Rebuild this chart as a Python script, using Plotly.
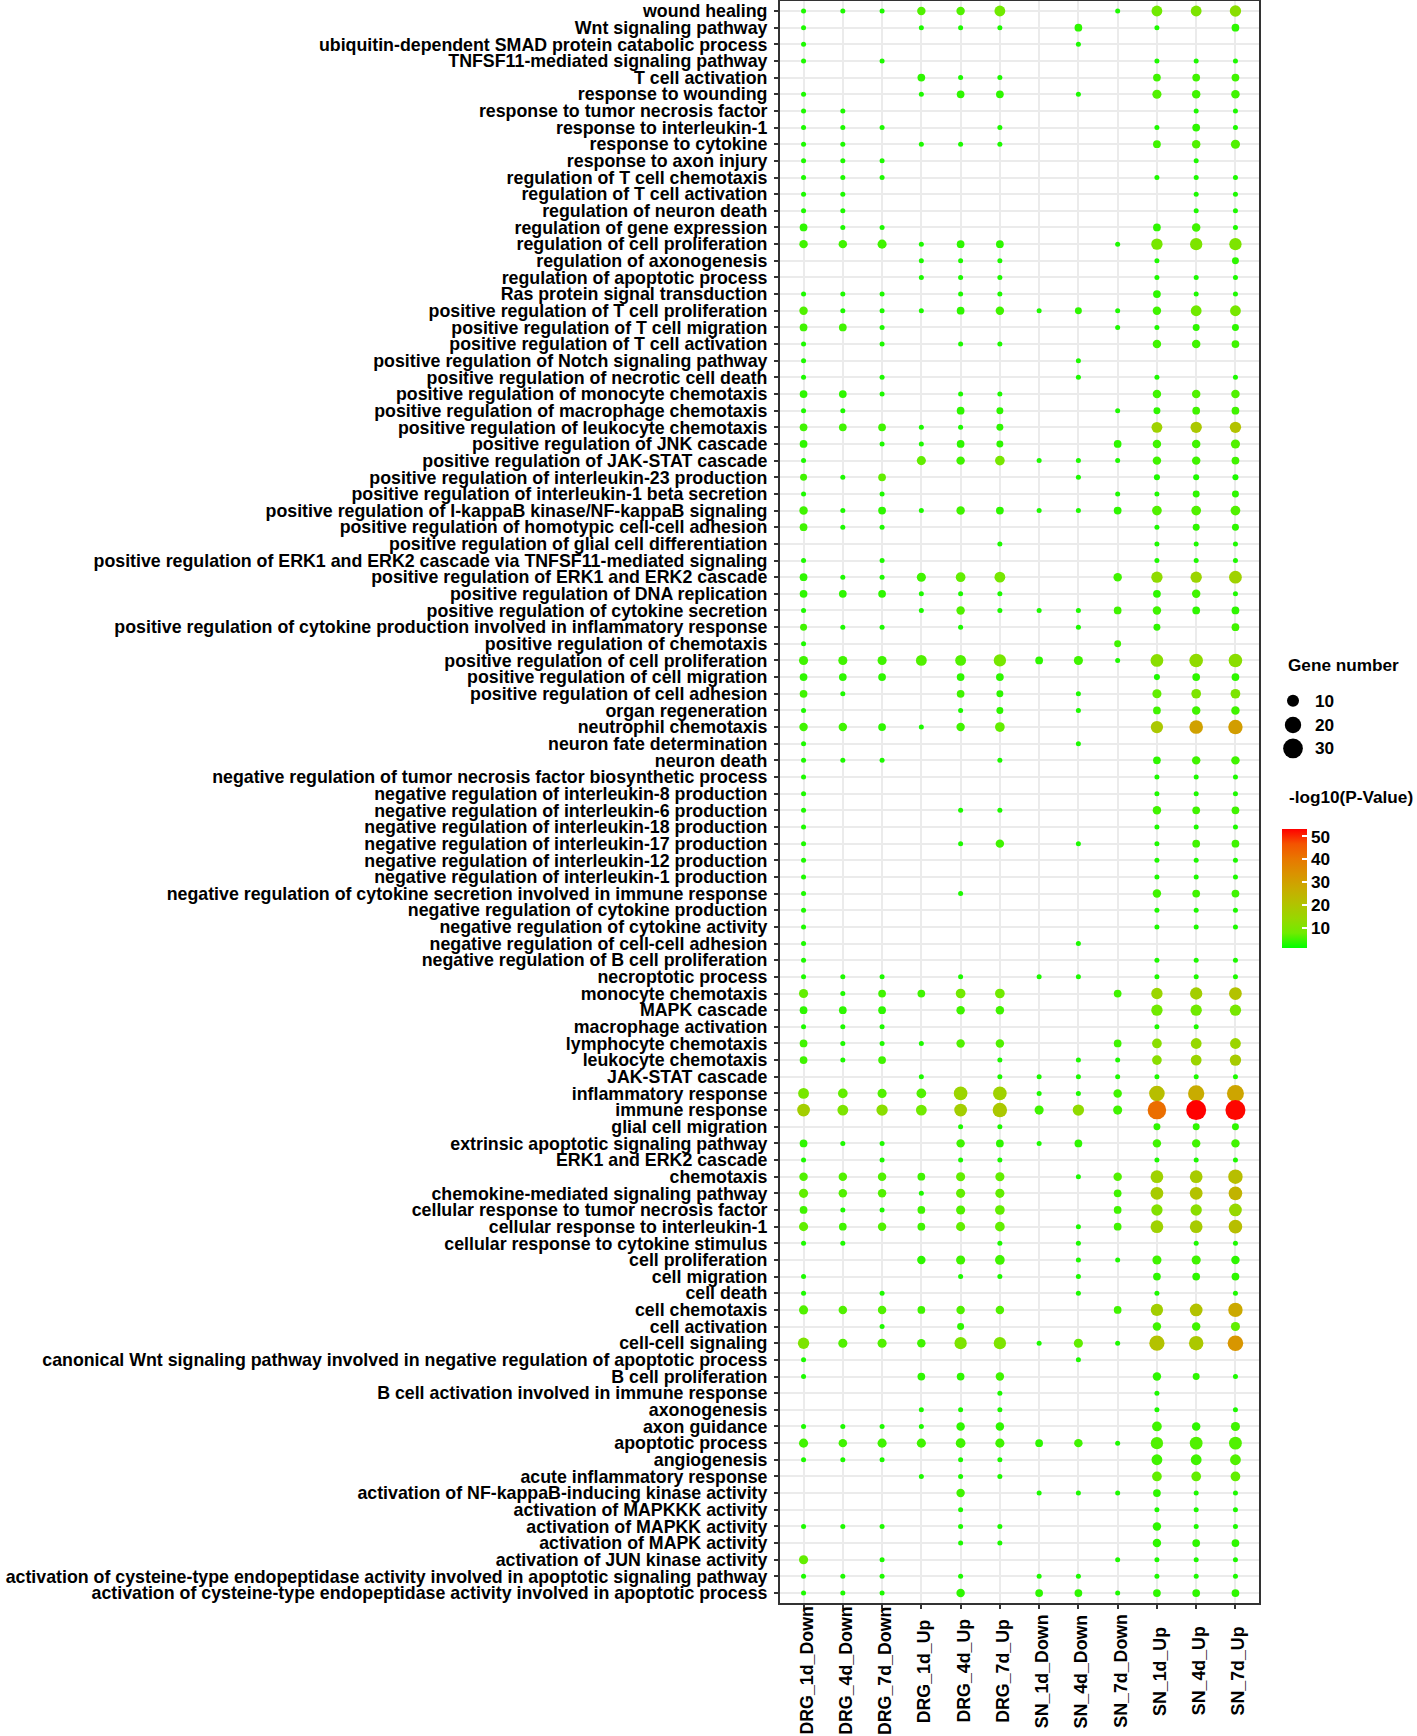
import numpy as np
import plotly.graph_objects as go

# samples (x axis)
groups = ["DRG_1d_Down", "DRG_4d_Down", "DRG_7d_Down", "DRG_1d_Up", "DRG_4d_Up", "DRG_7d_Up",
          "SN_1d_Down", "SN_4d_Down", "SN_7d_Down", "SN_1d_Up", "SN_4d_Up", "SN_7d_Up"]

# GO terms, top to bottom
terms = [
    "wound healing",
    "Wnt signaling pathway",
    "ubiquitin-dependent SMAD protein catabolic process",
    "TNFSF11-mediated signaling pathway",
    "T cell activation",
    "response to wounding",
    "response to tumor necrosis factor",
    "response to interleukin-1",
    "response to cytokine",
    "response to axon injury",
    "regulation of T cell chemotaxis",
    "regulation of T cell activation",
    "regulation of neuron death",
    "regulation of gene expression",
    "regulation of cell proliferation",
    "regulation of axonogenesis",
    "regulation of apoptotic process",
    "Ras protein signal transduction",
    "positive regulation of T cell proliferation",
    "positive regulation of T cell migration",
    "positive regulation of T cell activation",
    "positive regulation of Notch signaling pathway",
    "positive regulation of necrotic cell death",
    "positive regulation of monocyte chemotaxis",
    "positive regulation of macrophage chemotaxis",
    "positive regulation of leukocyte chemotaxis",
    "positive regulation of JNK cascade",
    "positive regulation of JAK-STAT cascade",
    "positive regulation of interleukin-23 production",
    "positive regulation of interleukin-1 beta secretion",
    "positive regulation of I-kappaB kinase/NF-kappaB signaling",
    "positive regulation of homotypic cell-cell adhesion",
    "positive regulation of glial cell differentiation",
    "positive regulation of ERK1 and ERK2 cascade via TNFSF11-mediated signaling",
    "positive regulation of ERK1 and ERK2 cascade",
    "positive regulation of DNA replication",
    "positive regulation of cytokine secretion",
    "positive regulation of cytokine production involved in inflammatory response",
    "positive regulation of chemotaxis",
    "positive regulation of cell proliferation",
    "positive regulation of cell migration",
    "positive regulation of cell adhesion",
    "organ regeneration",
    "neutrophil chemotaxis",
    "neuron fate determination",
    "neuron death",
    "negative regulation of tumor necrosis factor biosynthetic process",
    "negative regulation of interleukin-8 production",
    "negative regulation of interleukin-6 production",
    "negative regulation of interleukin-18 production",
    "negative regulation of interleukin-17 production",
    "negative regulation of interleukin-12 production",
    "negative regulation of interleukin-1 production",
    "negative regulation of cytokine secretion involved in immune response",
    "negative regulation of cytokine production",
    "negative regulation of cytokine activity",
    "negative regulation of cell-cell adhesion",
    "negative regulation of B cell proliferation",
    "necroptotic process",
    "monocyte chemotaxis",
    "MAPK cascade",
    "macrophage activation",
    "lymphocyte chemotaxis",
    "leukocyte chemotaxis",
    "JAK-STAT cascade",
    "inflammatory response",
    "immune response",
    "glial cell migration",
    "extrinsic apoptotic signaling pathway",
    "ERK1 and ERK2 cascade",
    "chemotaxis",
    "chemokine-mediated signaling pathway",
    "cellular response to tumor necrosis factor",
    "cellular response to interleukin-1",
    "cellular response to cytokine stimulus",
    "cell proliferation",
    "cell migration",
    "cell death",
    "cell chemotaxis",
    "cell activation",
    "cell-cell signaling",
    "canonical Wnt signaling pathway involved in negative regulation of apoptotic process",
    "B cell proliferation",
    "B cell activation involved in immune response",
    "axonogenesis",
    "axon guidance",
    "apoptotic process",
    "angiogenesis",
    "acute inflammatory response",
    "activation of NF-kappaB-inducing kinase activity",
    "activation of MAPKKK activity",
    "activation of MAPKK activity",
    "activation of MAPK activity",
    "activation of JUN kinase activity",
    "activation of cysteine-type endopeptidase activity involved in apoptotic signaling pathway",
    "activation of cysteine-type endopeptidase activity involved in apoptotic process",
]

# gene number per term / sample (0 = not enriched)
gene_count = [
    [2, 2, 2, 6, 6, 10, 0, 0, 2, 10, 10, 11],
    [2, 0, 0, 2, 2, 2, 0, 5, 0, 2, 0, 5],
    [2, 0, 0, 0, 0, 0, 0, 2, 0, 0, 0, 0],
    [2, 0, 2, 0, 0, 0, 0, 0, 0, 2, 2, 2],
    [0, 0, 0, 5, 2, 2, 0, 0, 0, 5, 5, 5],
    [2, 0, 0, 2, 5, 5, 0, 2, 0, 7, 6, 6],
    [2, 2, 0, 0, 0, 0, 0, 0, 0, 0, 2, 2],
    [2, 2, 2, 0, 0, 2, 0, 0, 0, 2, 5, 2],
    [2, 2, 0, 2, 2, 2, 0, 0, 0, 5, 6, 7],
    [2, 2, 2, 0, 0, 0, 0, 0, 0, 0, 2, 0],
    [2, 2, 2, 0, 0, 0, 0, 0, 0, 2, 2, 2],
    [2, 2, 0, 0, 0, 0, 0, 0, 0, 0, 2, 2],
    [2, 2, 0, 0, 0, 0, 0, 0, 0, 0, 2, 2],
    [5, 2, 2, 0, 0, 0, 0, 0, 0, 5, 6, 2],
    [6, 6, 7, 2, 5, 5, 0, 0, 2, 11, 13, 13],
    [0, 0, 0, 2, 2, 2, 0, 0, 0, 2, 0, 4],
    [0, 0, 0, 2, 2, 2, 0, 0, 0, 2, 2, 2],
    [2, 2, 2, 0, 2, 2, 0, 0, 0, 5, 2, 2],
    [6, 2, 2, 2, 5, 6, 2, 4, 2, 6, 10, 10],
    [5, 5, 2, 0, 0, 0, 0, 0, 2, 2, 4, 4],
    [2, 0, 2, 0, 2, 2, 0, 0, 0, 6, 6, 5],
    [2, 0, 0, 0, 0, 0, 0, 2, 0, 0, 0, 0],
    [2, 0, 2, 0, 0, 0, 0, 2, 0, 2, 0, 2],
    [5, 5, 2, 0, 2, 2, 0, 0, 0, 6, 6, 6],
    [2, 2, 0, 0, 5, 4, 0, 0, 2, 4, 5, 5],
    [5, 5, 5, 2, 2, 4, 0, 0, 0, 10, 11, 11],
    [5, 0, 2, 2, 5, 4, 0, 0, 5, 6, 6, 7],
    [2, 0, 0, 7, 6, 8, 2, 2, 2, 6, 6, 5],
    [4, 2, 5, 0, 0, 0, 0, 2, 0, 3, 3, 3],
    [2, 0, 2, 0, 0, 0, 0, 0, 2, 2, 4, 4],
    [6, 2, 5, 2, 6, 5, 2, 2, 5, 8, 8, 8],
    [5, 2, 2, 0, 0, 0, 0, 0, 0, 2, 4, 4],
    [0, 0, 0, 0, 0, 2, 0, 0, 0, 2, 2, 2],
    [2, 0, 2, 0, 0, 0, 0, 0, 0, 2, 2, 2],
    [5, 2, 2, 7, 8, 10, 0, 0, 6, 11, 11, 14],
    [5, 5, 5, 2, 2, 2, 0, 0, 0, 5, 6, 2],
    [2, 0, 0, 2, 6, 2, 2, 2, 5, 6, 5, 5],
    [4, 2, 2, 0, 2, 0, 0, 2, 0, 4, 0, 5],
    [2, 0, 0, 0, 0, 0, 0, 0, 4, 0, 0, 0],
    [7, 7, 7, 10, 10, 13, 5, 7, 2, 14, 16, 16],
    [5, 5, 5, 0, 5, 5, 0, 0, 0, 3, 5, 5],
    [5, 2, 0, 0, 5, 4, 0, 2, 0, 7, 8, 8],
    [2, 0, 0, 0, 2, 4, 0, 2, 0, 5, 6, 6],
    [6, 6, 5, 2, 6, 8, 0, 0, 0, 13, 16, 18],
    [2, 0, 0, 0, 0, 0, 0, 2, 0, 0, 0, 0],
    [2, 2, 2, 0, 0, 2, 0, 0, 0, 5, 6, 6],
    [2, 0, 0, 0, 0, 0, 0, 0, 0, 2, 2, 2],
    [2, 0, 0, 0, 0, 0, 0, 0, 0, 2, 2, 2],
    [2, 0, 0, 0, 2, 2, 0, 0, 0, 6, 5, 5],
    [2, 0, 0, 0, 0, 0, 0, 0, 0, 2, 2, 2],
    [2, 0, 0, 0, 2, 6, 0, 2, 0, 2, 5, 5],
    [2, 0, 0, 0, 0, 0, 0, 0, 0, 2, 2, 2],
    [2, 0, 0, 0, 0, 0, 0, 0, 0, 2, 2, 2],
    [2, 0, 0, 0, 2, 0, 0, 0, 0, 6, 5, 5],
    [2, 0, 0, 0, 0, 0, 0, 0, 0, 2, 2, 2],
    [2, 0, 0, 0, 0, 0, 0, 0, 0, 2, 2, 2],
    [2, 0, 0, 0, 0, 0, 0, 2, 0, 0, 0, 0],
    [2, 0, 0, 0, 0, 0, 0, 0, 0, 2, 2, 2],
    [2, 2, 2, 0, 2, 0, 2, 2, 0, 2, 2, 2],
    [7, 2, 5, 5, 8, 8, 0, 0, 5, 11, 13, 14],
    [5, 5, 5, 0, 6, 6, 0, 0, 0, 11, 11, 11],
    [2, 2, 2, 0, 0, 0, 0, 0, 0, 2, 2, 0],
    [5, 2, 2, 2, 6, 6, 0, 0, 5, 8, 10, 10],
    [5, 2, 5, 0, 0, 2, 0, 2, 2, 8, 10, 11],
    [0, 0, 0, 2, 0, 2, 2, 2, 2, 2, 2, 2],
    [10, 8, 7, 8, 16, 16, 2, 2, 6, 21, 23, 25],
    [14, 10, 11, 10, 14, 18, 7, 11, 7, 30, 35, 35],
    [0, 0, 0, 0, 2, 2, 0, 0, 0, 4, 4, 4],
    [5, 2, 2, 0, 6, 5, 2, 5, 0, 6, 6, 6],
    [2, 0, 2, 0, 2, 2, 0, 0, 0, 2, 2, 2],
    [6, 6, 6, 5, 7, 7, 0, 2, 6, 14, 14, 18],
    [7, 6, 6, 2, 7, 7, 0, 0, 5, 14, 14, 16],
    [5, 2, 2, 5, 7, 8, 0, 0, 5, 11, 11, 14],
    [7, 5, 6, 5, 7, 8, 0, 2, 5, 14, 14, 16],
    [2, 2, 0, 0, 0, 2, 0, 2, 0, 0, 2, 2],
    [0, 0, 0, 6, 7, 8, 0, 2, 2, 7, 7, 6],
    [2, 0, 0, 0, 2, 2, 0, 2, 0, 5, 5, 5],
    [2, 0, 2, 0, 0, 0, 0, 2, 0, 2, 0, 2],
    [7, 6, 6, 5, 6, 6, 0, 0, 5, 13, 14, 18],
    [0, 0, 2, 0, 4, 0, 0, 0, 0, 6, 6, 7],
    [11, 7, 7, 6, 13, 13, 2, 7, 2, 20, 18, 21],
    [2, 0, 0, 0, 0, 0, 0, 2, 0, 0, 0, 0],
    [2, 0, 0, 5, 5, 6, 0, 0, 0, 6, 4, 2],
    [0, 0, 0, 0, 0, 2, 0, 0, 0, 2, 0, 0],
    [0, 0, 0, 2, 2, 2, 0, 0, 0, 2, 0, 2],
    [2, 2, 2, 2, 6, 6, 0, 0, 0, 8, 6, 7],
    [7, 6, 7, 7, 8, 7, 5, 6, 2, 13, 14, 14],
    [2, 2, 2, 0, 2, 2, 0, 0, 0, 10, 10, 10],
    [0, 0, 0, 2, 2, 2, 0, 0, 0, 8, 8, 8],
    [0, 0, 0, 0, 6, 0, 2, 2, 2, 5, 2, 2],
    [0, 0, 0, 0, 2, 0, 0, 0, 0, 2, 2, 2],
    [2, 2, 2, 0, 2, 2, 0, 0, 0, 6, 2, 2],
    [0, 0, 0, 0, 2, 2, 0, 0, 0, 6, 5, 5],
    [7, 0, 2, 0, 0, 0, 0, 0, 2, 2, 2, 2],
    [2, 2, 2, 0, 2, 0, 2, 2, 0, 2, 2, 2],
    [2, 2, 2, 0, 6, 0, 5, 5, 2, 5, 5, 5],
]

# -log10(P-Value) per term / sample
neg_log10_p = [
    [3, 3, 3, 6, 6, 8, 0, 0, 3, 8, 10, 12],
    [3, 0, 0, 3, 3, 3, 0, 4, 0, 3, 0, 4],
    [3, 0, 0, 0, 0, 0, 0, 3, 0, 0, 0, 0],
    [3, 0, 3, 0, 0, 0, 0, 0, 0, 3, 3, 3],
    [0, 0, 0, 4, 3, 3, 0, 0, 0, 5, 5, 5],
    [3, 0, 0, 3, 4, 4, 0, 3, 0, 6, 5, 5],
    [3, 3, 0, 0, 0, 0, 0, 0, 0, 0, 3, 3],
    [3, 3, 3, 0, 0, 3, 0, 0, 0, 3, 4, 3],
    [3, 3, 0, 3, 3, 3, 0, 0, 0, 5, 6, 6],
    [3, 3, 3, 0, 0, 0, 0, 0, 0, 0, 3, 0],
    [3, 3, 3, 0, 0, 0, 0, 0, 0, 3, 3, 3],
    [3, 3, 0, 0, 0, 0, 0, 0, 0, 0, 3, 3],
    [3, 3, 0, 0, 0, 0, 0, 0, 0, 0, 3, 3],
    [4, 3, 3, 0, 0, 0, 0, 0, 0, 4, 5, 3],
    [5, 5, 5, 3, 4, 4, 0, 0, 3, 9, 10, 10],
    [0, 0, 0, 3, 3, 3, 0, 0, 0, 3, 0, 4],
    [0, 0, 0, 3, 3, 3, 0, 0, 0, 3, 3, 3],
    [3, 3, 3, 0, 3, 3, 0, 0, 0, 4, 3, 3],
    [6, 3, 3, 3, 4, 5, 3, 4, 3, 5, 8, 9],
    [5, 5, 3, 0, 0, 0, 0, 0, 3, 3, 4, 4],
    [3, 0, 3, 0, 3, 3, 0, 0, 0, 5, 5, 5],
    [3, 0, 0, 0, 0, 0, 0, 3, 0, 0, 0, 0],
    [3, 0, 3, 0, 0, 0, 0, 3, 0, 3, 0, 3],
    [4, 4, 3, 0, 3, 3, 0, 0, 0, 5, 6, 6],
    [3, 3, 0, 0, 4, 4, 0, 0, 3, 4, 5, 5],
    [5, 5, 5, 3, 3, 4, 0, 0, 0, 16, 19, 21],
    [4, 0, 3, 3, 4, 4, 0, 0, 4, 5, 5, 6],
    [3, 0, 0, 7, 5, 9, 3, 3, 3, 5, 5, 5],
    [5, 3, 7, 0, 0, 0, 0, 3, 0, 3, 3, 3],
    [3, 0, 3, 0, 0, 0, 0, 0, 3, 3, 4, 4],
    [5, 3, 4, 3, 5, 4, 3, 3, 4, 6, 6, 6],
    [5, 3, 3, 0, 0, 0, 0, 0, 0, 3, 4, 4],
    [0, 0, 0, 0, 0, 3, 0, 0, 0, 3, 3, 3],
    [3, 0, 3, 0, 0, 0, 0, 0, 0, 3, 3, 3],
    [4, 3, 3, 5, 7, 9, 0, 0, 5, 13, 15, 16],
    [4, 4, 4, 3, 3, 3, 0, 0, 0, 4, 5, 3],
    [3, 0, 0, 3, 6, 3, 3, 3, 5, 5, 4, 4],
    [5, 3, 3, 0, 3, 0, 0, 3, 0, 4, 0, 5],
    [3, 0, 0, 0, 0, 0, 0, 0, 5, 0, 0, 0],
    [5, 5, 5, 6, 6, 9, 4, 5, 3, 12, 13, 12],
    [4, 4, 4, 0, 4, 4, 0, 0, 0, 3, 4, 4],
    [5, 3, 0, 0, 5, 4, 0, 3, 0, 7, 10, 10],
    [3, 0, 0, 0, 3, 4, 0, 3, 0, 5, 5, 5],
    [5, 5, 4, 3, 5, 7, 0, 0, 0, 19, 30, 31],
    [3, 0, 0, 0, 0, 0, 0, 3, 0, 0, 0, 0],
    [3, 3, 3, 0, 0, 3, 0, 0, 0, 4, 5, 5],
    [3, 0, 0, 0, 0, 0, 0, 0, 0, 3, 3, 3],
    [3, 0, 0, 0, 0, 0, 0, 0, 0, 3, 3, 3],
    [3, 0, 0, 0, 3, 3, 0, 0, 0, 5, 5, 5],
    [3, 0, 0, 0, 0, 0, 0, 0, 0, 3, 3, 3],
    [3, 0, 0, 0, 3, 5, 0, 3, 0, 3, 5, 5],
    [3, 0, 0, 0, 0, 0, 0, 0, 0, 3, 3, 3],
    [3, 0, 0, 0, 0, 0, 0, 0, 0, 3, 3, 3],
    [3, 0, 0, 0, 3, 0, 0, 0, 0, 5, 5, 5],
    [3, 0, 0, 0, 0, 0, 0, 0, 0, 3, 3, 3],
    [3, 0, 0, 0, 0, 0, 0, 0, 0, 3, 3, 3],
    [3, 0, 0, 0, 0, 0, 0, 3, 0, 0, 0, 0],
    [3, 0, 0, 0, 0, 0, 0, 0, 0, 3, 3, 3],
    [3, 3, 3, 0, 3, 0, 3, 3, 0, 3, 3, 3],
    [7, 3, 5, 5, 8, 8, 0, 0, 5, 15, 17, 21],
    [4, 4, 4, 0, 5, 5, 0, 0, 0, 8, 8, 9],
    [3, 3, 3, 0, 0, 0, 0, 0, 0, 3, 3, 0],
    [5, 3, 3, 3, 6, 6, 0, 0, 5, 12, 14, 15],
    [5, 3, 5, 0, 0, 3, 0, 3, 3, 12, 15, 18],
    [0, 0, 0, 3, 0, 3, 3, 3, 3, 3, 3, 3],
    [9, 7, 6, 6, 15, 16, 3, 3, 5, 22, 27, 29],
    [17, 10, 12, 8, 17, 19, 5, 13, 5, 42, 53.5, 53],
    [0, 0, 0, 0, 3, 3, 0, 0, 0, 4, 4, 4],
    [4, 3, 3, 0, 5, 4, 3, 4, 0, 5, 5, 5],
    [3, 0, 3, 0, 3, 3, 0, 0, 0, 3, 3, 3],
    [6, 6, 6, 5, 7, 7, 0, 3, 6, 16, 18, 22],
    [7, 6, 6, 3, 7, 7, 0, 0, 5, 18, 21, 25],
    [5, 3, 3, 5, 6, 7, 0, 0, 5, 11, 12, 14],
    [7, 5, 6, 5, 7, 7, 0, 3, 5, 16, 18, 22],
    [3, 3, 0, 0, 0, 3, 0, 3, 0, 0, 3, 3],
    [0, 0, 0, 4, 5, 5, 0, 3, 3, 5, 5, 4],
    [3, 0, 0, 0, 3, 3, 0, 3, 0, 4, 4, 4],
    [3, 0, 3, 0, 0, 0, 0, 3, 0, 3, 0, 3],
    [6, 6, 6, 5, 6, 6, 0, 0, 5, 17, 21, 28],
    [0, 0, 3, 0, 4, 0, 0, 0, 0, 5, 5, 7],
    [10, 6, 6, 5, 10, 10, 3, 7, 3, 21, 19, 33],
    [3, 0, 0, 0, 0, 0, 0, 3, 0, 0, 0, 0],
    [3, 0, 0, 4, 4, 5, 0, 0, 0, 4, 4, 3],
    [0, 0, 0, 0, 0, 3, 0, 0, 0, 3, 0, 0],
    [0, 0, 0, 3, 3, 3, 0, 0, 0, 3, 0, 3],
    [3, 3, 3, 3, 4, 4, 0, 0, 0, 5, 4, 5],
    [5, 5, 5, 5, 5, 5, 4, 5, 3, 6, 6, 6],
    [3, 3, 3, 0, 3, 3, 0, 0, 0, 5, 5, 6],
    [0, 0, 0, 3, 3, 3, 0, 0, 0, 7, 7, 7],
    [0, 0, 0, 0, 5, 0, 3, 3, 3, 4, 3, 3],
    [0, 0, 0, 0, 3, 0, 0, 0, 0, 3, 3, 3],
    [3, 3, 3, 0, 3, 3, 0, 0, 0, 4, 3, 3],
    [0, 0, 0, 0, 3, 3, 0, 0, 0, 4, 4, 4],
    [7, 0, 3, 0, 0, 0, 0, 0, 3, 3, 3, 3],
    [3, 3, 3, 0, 3, 0, 3, 3, 0, 3, 3, 3],
    [3, 3, 3, 0, 4, 0, 4, 4, 3, 4, 4, 4],
]

size_breaks = [10, 20, 30]
color_ticks = [10, 20, 30, 40, 50]

# green -> red, stops interpolated in Lab like ggplot's default gradient
colorscale = [
    [0.0, "#00FF00"], [0.125, "#70EB00"], [0.25, "#98D700"], [0.375, "#B3C200"],
    [0.5, "#C9AB00"], [0.625, "#DA9200"], [0.75, "#E87700"], [0.875, "#F45300"],
    [1.0, "#FF0000"],
]
cmin, cmax = 1.3, 53.5


def dot_px(n):
    # area scale: diameter grows with sqrt(gene number)
    return 0.3 + 3.33 * np.sqrt(n)


W, H = 1417, 1736
ML, MR, MT, MB = 780, 158, 1, 133


def px(x):
    return (x - ML) / (W - ML - MR)


def py(y):
    return 1 - (y - MT) / (H - MT - MB)


xs, ys, sizes, cols, hover = [], [], [], [], []
for i, term in enumerate(terms):
    for j, g in enumerate(groups):
        n = gene_count[i][j]
        if n > 0:
            xs.append(g)
            ys.append(term)
            sizes.append(dot_px(n))
            cols.append(neg_log10_p[i][j])
            hover.append(f"{term}<br>{g}<br>Gene number: {n}<br>-log10(P): {neg_log10_p[i][j]}")

bold = dict(family="Liberation Sans", size=17.8, color="black", weight="bold")
bold_leg = dict(family="Liberation Sans", size=17.2, color="black", weight="bold")

# colourbar geometry (pixels)
cb_left, cb_w, cb_mid, cb_len = 1282, 25, 888, 119

fig = go.Figure(go.Scatter(
    x=xs, y=ys, mode="markers", text=hover, hoverinfo="text", showlegend=False,
    marker=dict(size=sizes, color=cols, colorscale=colorscale, cmin=cmin, cmax=cmax,
                line=dict(width=0), opacity=1,
                colorbar=dict(x=px(cb_left), xanchor="left", y=py(cb_mid), yanchor="middle",
                              len=cb_len, lenmode="pixels", thickness=cb_w, xpad=0, ypad=0,
                              outlinewidth=0, tickvals=color_ticks, ticks="inside",
                              ticklen=5, tickwidth=1.5, tickcolor="white",
                              tickprefix="\u00a0\u2009", tickfont=bold_leg)),
))

# x labels centred under each column (ggplot style, rotated)
annotations = []
for g in groups:
    annotations.append(dict(x=g, xref="x", y=py(1671), yref="paper", text=g, textangle=-90,
                            showarrow=False, xanchor="center", yanchor="middle", xshift=3,
                            font=bold))

# size legend
annotations.append(dict(x=px(1286), y=py(665), xref="paper", yref="paper", text="Gene number",
                        showarrow=False, xanchor="left", yanchor="middle", font=bold_leg))
shapes = []
for k, b in zip([700.7, 725, 748.4], size_breaks):
    r = dot_px(b) / 2 + 0.6
    shapes.append(dict(type="circle", xref="paper", yref="paper", xsizemode="pixel",
                       ysizemode="pixel", xanchor=px(1293), yanchor=py(k),
                       x0=-r, x1=r, y0=-r, y1=r, fillcolor="black", line=dict(width=0)))
    annotations.append(dict(x=px(1313), y=py(k), xref="paper", yref="paper", text=str(b),
                            showarrow=False, xanchor="left", yanchor="middle", font=bold_leg))

annotations.append(dict(x=px(1287), y=py(797), xref="paper", yref="paper", text="-log10(P-Value)",
                        showarrow=False, xanchor="left", yanchor="middle", font=bold_leg))

# white ticks on the left edge of the colourbar too (ggplot draws both sides)
cb_bottom = cb_mid + cb_len / 2
for v in color_ticks:
    yv = cb_bottom - (v - cmin) / (cmax - cmin) * cb_len
    shapes.append(dict(type="line", xref="paper", yref="paper", x0=px(cb_left), x1=px(cb_left + 5),
                       y0=py(yv), y1=py(yv), line=dict(color="white", width=1.5)))

fig.update_layout(
    width=W, height=H,
    margin=dict(l=ML, r=MR, t=MT, b=MB, autoexpand=False),
    plot_bgcolor="white", paper_bgcolor="white",
    font=dict(family="Liberation Sans"),
    annotations=annotations, shapes=shapes,
    xaxis=dict(type="category", categoryorder="array", categoryarray=groups,
               range=[-0.6, len(groups) - 0.4], showticklabels=False,
               tickmode="array", tickvals=groups,
               ticks="outside", ticklen=4, tickcolor="#333333", tickwidth=1.5,
               showgrid=True, gridcolor="#EBEBEB", gridwidth=1.5,
               showline=True, mirror=True, linecolor="#333333", linewidth=2,
               zeroline=False, automargin=False),
    yaxis=dict(type="category", categoryorder="array", categoryarray=terms,
               range=[len(terms) - 0.4, -0.6], tickfont=bold,
               tickmode="array", tickvals=terms, ticktext=terms,
               ticks="outside", ticklen=4, tickcolor="#333333", tickwidth=1.5,
               ticklabelstandoff=3,
               showgrid=True, gridcolor="#EBEBEB", gridwidth=1.5,
               showline=True, mirror=True, linecolor="#333333", linewidth=2,
               zeroline=False, automargin=False),
)

# the page body has a default 8px margin; drop it so the figure sits at 0,0
fig.write_html("out.html", config={"displayModeBar": False},
               post_script="document.body.style.margin='0px';")
